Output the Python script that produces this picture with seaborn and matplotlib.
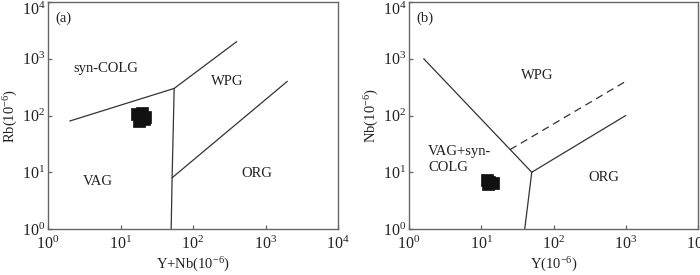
import matplotlib
matplotlib.use("Agg")
import matplotlib.pyplot as plt
import seaborn as sns
import pandas as pd
import numpy as np
from matplotlib.ticker import LogLocator, LogFormatterMathtext, NullLocator

sns.set_theme(style="white")
plt.rcParams['font.family'] = ['Liberation Serif', 'DejaVu Serif']
plt.rcParams['mathtext.fontset'] = 'custom'
plt.rcParams['mathtext.rm'] = 'Liberation Serif'
plt.rcParams['mathtext.it'] = 'Liberation Serif:italic'

# ---- data: panel (a) Rb vs Y+Nb ----
a_samples_x = [17, 20, 22, 18, 21]
a_samples_y = [105, 110, 95, 80, 88]
a_bound1_x = [2, 55, 400]          # VAG / syn-COLG, syn-COLG / WPG
a_bound1_y = [80, 300, 2000]
a_bound2_x = [55, 51.5, 50]        # VAG / WPG+ORG
a_bound2_y = [300, 8, 1]
a_bound3_x = [51.5, 2000]          # WPG / ORG
a_bound3_y = [8, 400]

# ---- data: panel (b) Nb vs Y ----
b_samples_x = [12, 13, 14.5, 12.5]
b_samples_y = [7.2, 6.6, 6.4, 6.2]
b_bound1_x = [1.6, 50]             # VAG+syn-COLG / WPG
b_bound1_y = [1000, 10]
b_bound2_x = [50, 1000]            # WPG / ORG
b_bound2_y = [10, 100]
b_bound3_x = [50, 40]              # VAG+syn-COLG / ORG
b_bound3_y = [10, 1]
b_dash_x = [25, 1000]              # dashed line
b_dash_y = [25, 400]

fig = plt.figure(figsize=(7, 2.75), dpi=100)
axA = fig.add_axes([48/700, 46/275, 290/700, 227/275])
axB = fig.add_axes([409/700, 46/275, 289/700, 227/275])

line_col = '#333333'
spine_col = '#666666'

def draw_line(ax, xs, ys, dashed=False):
    df = pd.DataFrame({'x': xs, 'y': ys})
    sns.lineplot(data=df, x='x', y='y', ax=ax, sort=False, estimator=None,
                 color=line_col, lw=0.9, linestyle=(0, (6, 4)) if dashed else '-')

def style(ax, xlabel, ylabel):
    ax.set_xscale('log')
    ax.set_yscale('log')
    ax.set_xlim(1, 1e4)
    ax.set_ylim(1, 1e4)
    ax.xaxis.set_major_locator(LogLocator(base=10, numticks=10))
    ax.yaxis.set_major_locator(LogLocator(base=10, numticks=10))
    ax.xaxis.set_minor_locator(NullLocator())
    ax.yaxis.set_minor_locator(NullLocator())
    ax.xaxis.set_major_formatter(LogFormatterMathtext())
    ax.yaxis.set_major_formatter(LogFormatterMathtext())
    ax.tick_params(direction='in', length=3, width=0.9, color=spine_col,
                   labelsize=11.5, bottom=True, left=True, labelcolor='#222222')
    ax.tick_params(axis='x', pad=5)
    ax.tick_params(axis='y', pad=2)
    for s in ax.spines.values():
        s.set_color(spine_col)
        s.set_linewidth(1.0)
    ax.set_xlabel(xlabel, fontsize=10.5, labelpad=2, color='#222222')
    ax.set_ylabel(ylabel, fontsize=10.5, labelpad=1, color='#222222')
    ax.grid(False)

# panel a
draw_line(axA, a_bound1_x, a_bound1_y)
draw_line(axA, a_bound2_x, a_bound2_y)
draw_line(axA, a_bound3_x, a_bound3_y)
sns.scatterplot(x=a_samples_x, y=a_samples_y, ax=axA, marker='s', s=65,
                color='#111111', edgecolor='#111111', linewidth=0.5, zorder=5)
style(axA, 'Y+Nb(10$^{-6}$)', 'Rb(10$^{-6}$)')
tkw = dict(fontsize=10.5, color='#222222')
axA.text(1.25, 5200, '(a)', ha='left', va='center', **tkw)
axA.text(6.2, 680, 'syn-COLG', ha='center', va='center', **tkw)
axA.text(300, 400, 'WPG', ha='center', va='center', **tkw)
axA.text(4.8, 7.0, 'VAG', ha='center', va='center', **tkw)
axA.text(760, 9.5, 'ORG', ha='center', va='center', **tkw)

# panel b
draw_line(axB, b_bound1_x, b_bound1_y)
draw_line(axB, b_bound2_x, b_bound2_y)
draw_line(axB, b_bound3_x, b_bound3_y)
draw_line(axB, b_dash_x, b_dash_y, dashed=True)
sns.scatterplot(x=b_samples_x, y=b_samples_y, ax=axB, marker='s', s=65,
                color='#111111', edgecolor='#111111', linewidth=0.5, zorder=5)
style(axB, 'Y(10$^{-6}$)', 'Nb(10$^{-6}$)')
axB.text(1.25, 5200, '(b)', ha='left', va='center', **tkw)
axB.text(60, 500, 'WPG', ha='center', va='center', **tkw)
axB.text(1.85, 17, 'VAG+syn-\nCOLG', ha='left', va='center', linespacing=1.3, **tkw)
axB.text(490, 8.2, 'ORG', ha='center', va='center', **tkw)

# keep the top y tick label (10^4) inside the figure, as in the reference
fig.canvas.draw()
for ax in (axA, axB):
    for tick in ax.yaxis.get_major_ticks():
        if np.isclose(tick.get_loc(), 1e4):
            tick.label1.set_verticalalignment('top')

fig.savefig('out.png', dpi=100)
